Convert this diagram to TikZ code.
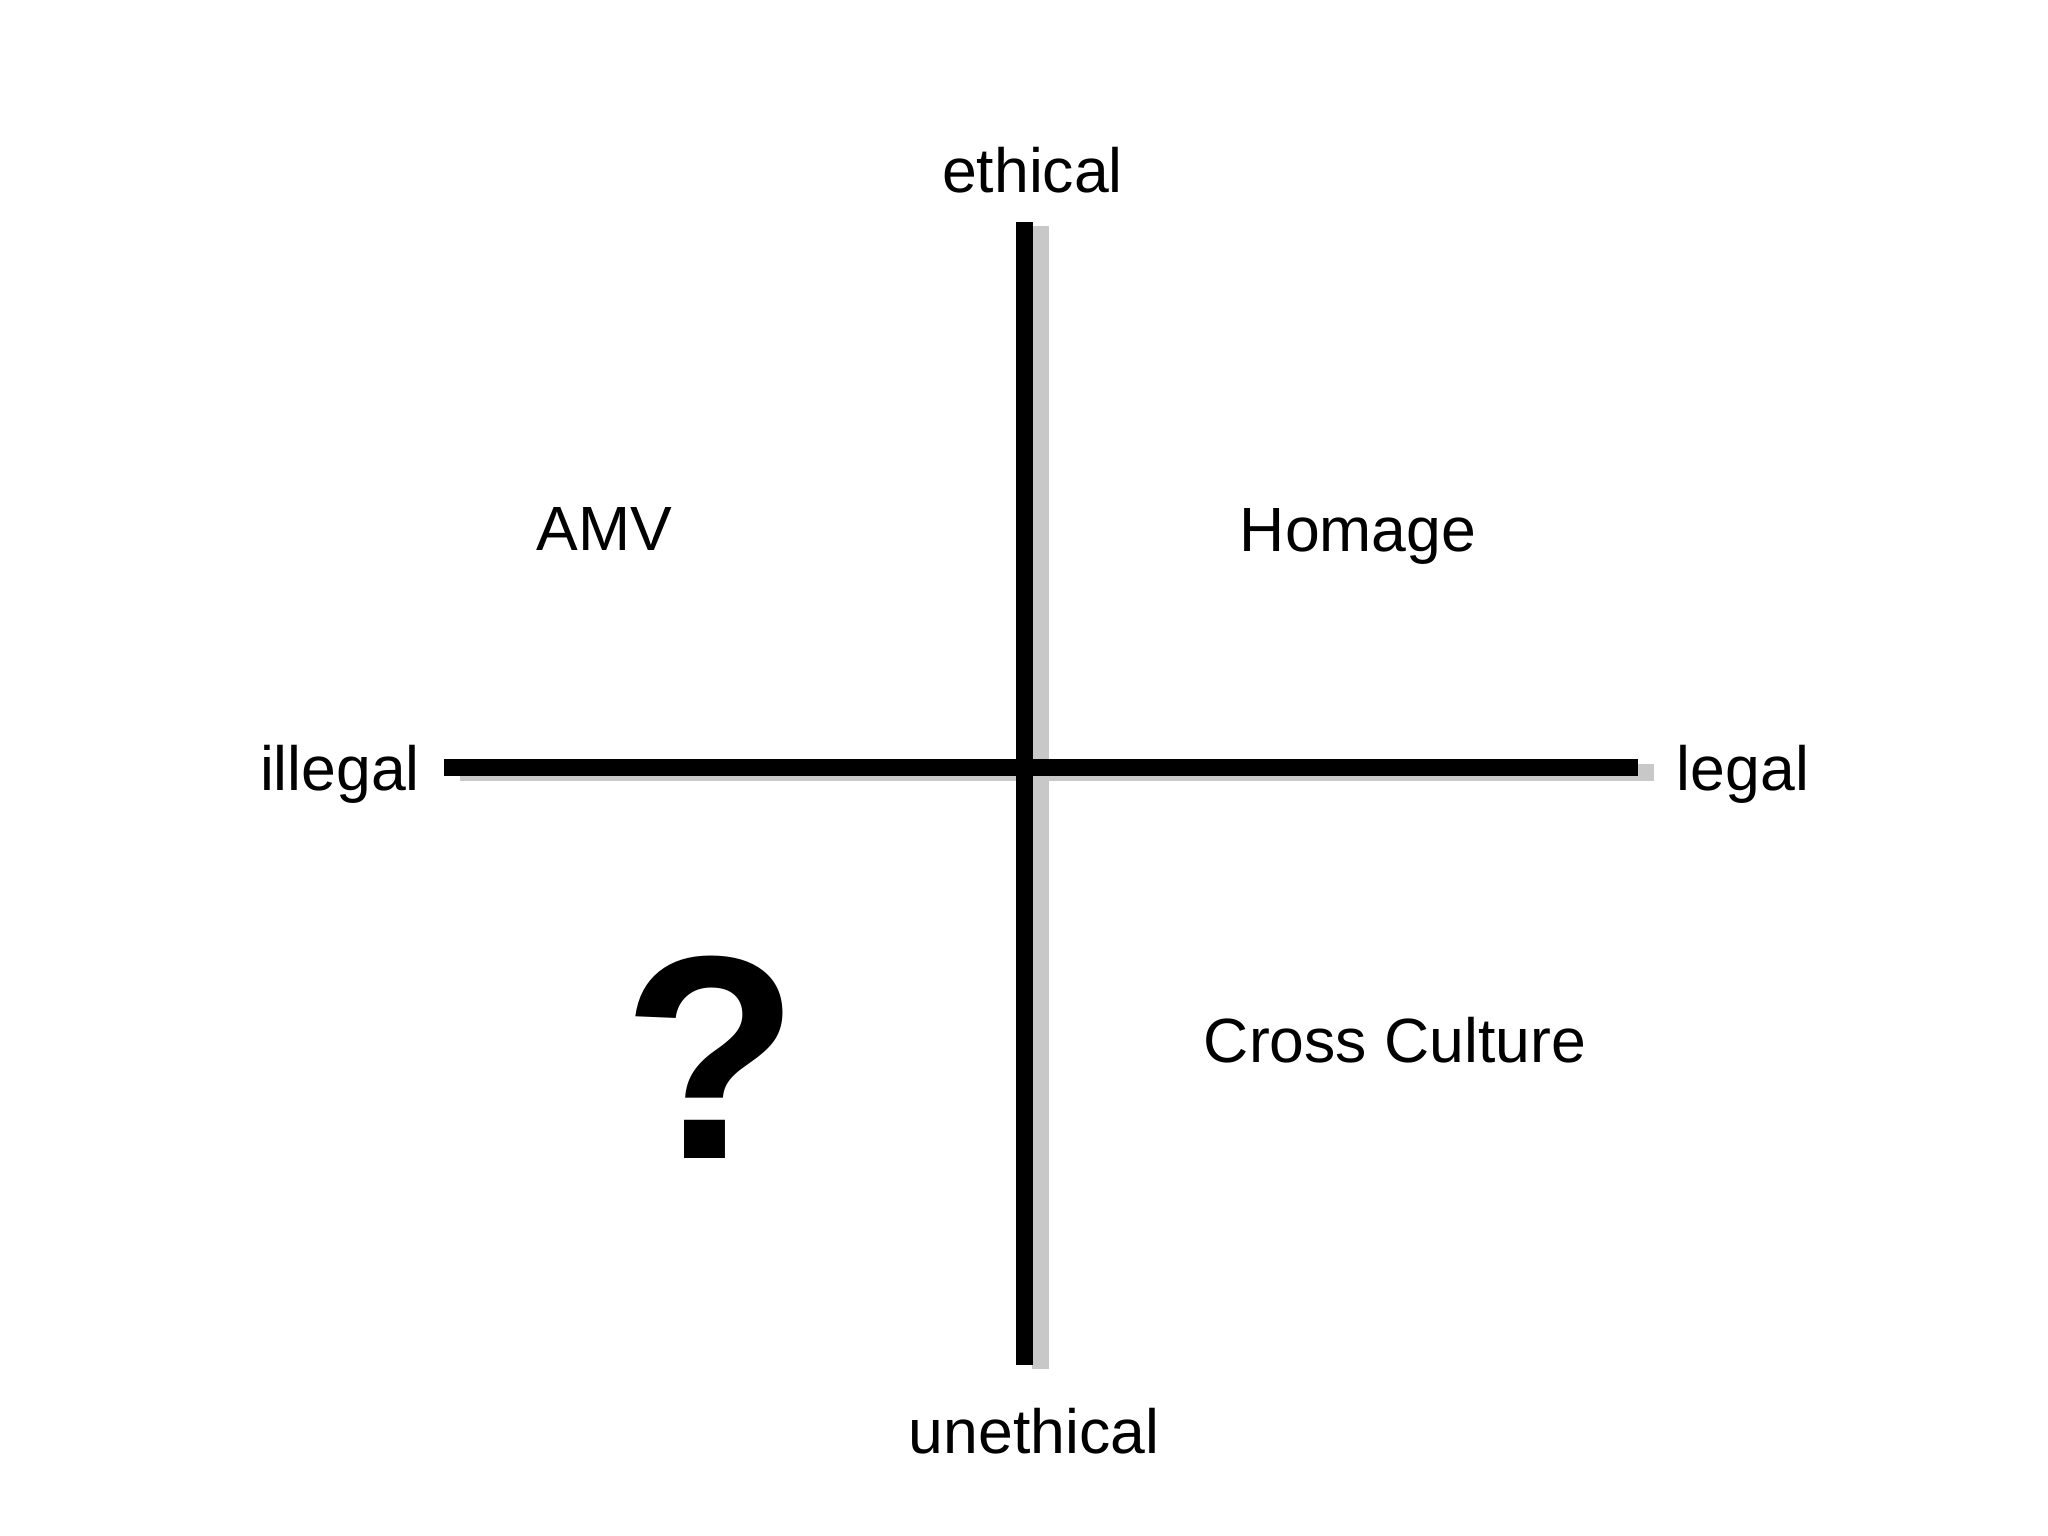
\documentclass[tikz,border=0pt]{standalone}
\usepackage{fontspec}
\setmainfont{Liberation Sans}
\definecolor{shadowgray}{RGB}{200,200,200}
\begin{document}
\begin{tikzpicture}[x=1pt,y=-1pt,
  axisline/.style={line width=17pt,line cap=butt,black},
  axisshadow/.style={line width=17pt,line cap=butt,shadowgray},
  lbl/.style={inner sep=0pt,anchor=base,font=\fontsize{62.5}{72}\selectfont},
  bigq/.style={inner sep=0pt,anchor=base,font=\fontsize{290}{300}\selectfont\bfseries}]
\useasboundingbox (0,0) rectangle (2048,1536);
% axis end points
\coordinate (top) at (1024,222);
\coordinate (bot) at (1024,1365);
\coordinate (lft) at (443.5,767.5);
\coordinate (rgt) at (1637.5,767.5);
\coordinate (stop) at (1040.5,226);
\coordinate (sbot) at (1040.5,1369);
\coordinate (slft) at (460,772.5);
\coordinate (srgt) at (1654,772.5);
% shadows
\draw[axisshadow] (stop) -- (sbot);
\draw[axisshadow] (slft) -- (srgt);
% axes
\draw[axisline] (top) -- (bot);
\draw[axisline] (lft) -- (rgt);
% labels
\node[lbl] (ethical) at (1032.5,192) {ethical};
\node[lbl] (unethical) at (1034,1453) {unethical};
\node[lbl] (illegal) at (340,790) {illegal};
\node[lbl] (legal) at (1743,790) {legal};
\node[lbl] (amv) at (604.5,550) {AMV};
\node[lbl] (homage) at (1358,551) {Homage};
\node[lbl] (cross) at (1395,1062) {Cross Culture};
\node[bigq] (q) at (711.5,1158) {?};
\end{tikzpicture}
\end{document}
